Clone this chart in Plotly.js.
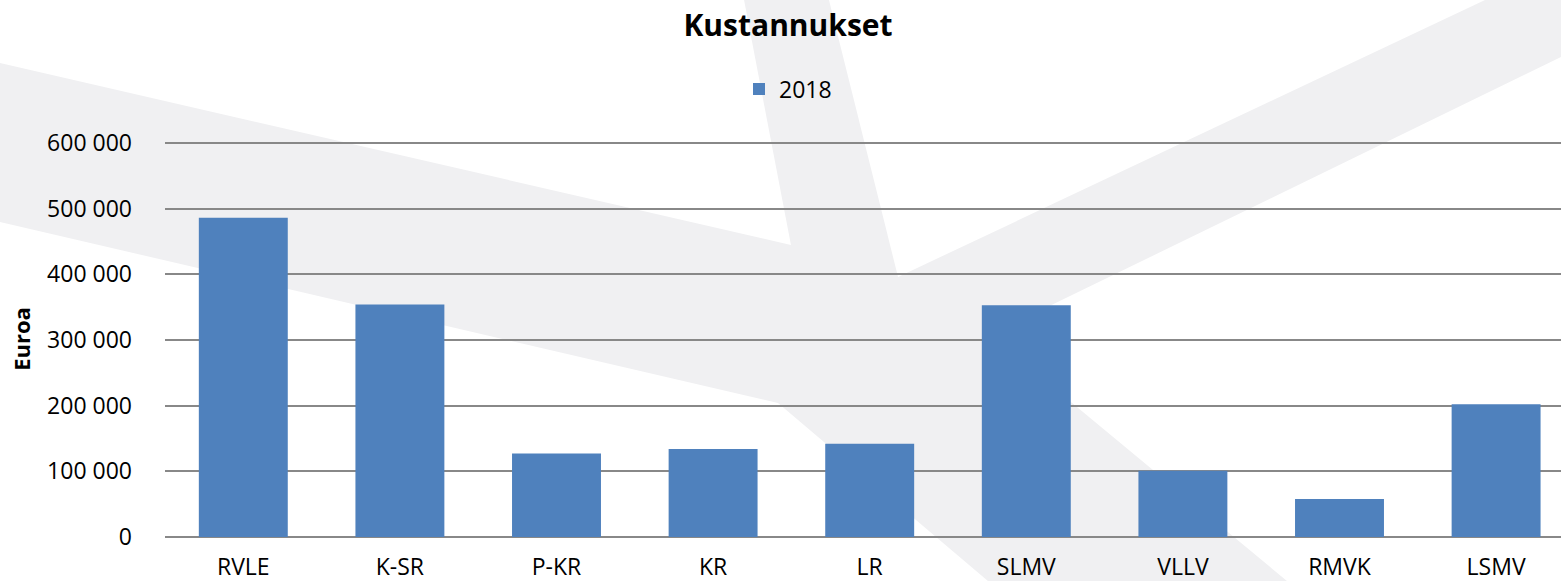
<!DOCTYPE html>
<html>
<head>
<meta charset="utf-8">
<script src="https://cdn.plot.ly/plotly-3.0.1.min.js"></script>
<style>html,body{margin:0;padding:0;background:#fff;overflow:hidden}</style>
</head>
<body>
<div id="chart" style="width:1561px;height:581px"></div>
<script>
const categories = ['RVLE', 'K-SR', 'P-KR', 'KR', 'LR', 'SLMV', 'VLLV', 'RMVK', 'LSMV'];
const values2018 = [486000, 354000, 127000, 134000, 142000, 353000, 101000, 58000, 202000];
const seriesName = '2018';
const yTicks = [0, 100000, 200000, 300000, 400000, 500000, 600000];

const W = 1561, H = 581, L = 165, R = 0, T = 141, B = 44;
const pw = W - L - R, ph = H - T - B;
const yMax = 600000 * ph / 394;
function px(x) { return ((x - L) / pw).toFixed(4); }
function py(y) { return ((H - B - y) / ph).toFixed(4); }
// watermark outline in canvas pixels (decorative background)
const wm = [[0,63],[791,245],[744,0],[829,0],[898,277],[1485,0],[1561,0],[1561,57],[990,335],[1287,581],[988,581],[778,403],[0,222]];
const wmPath = 'M' + wm.map(p => px(p[0]) + ',' + py(p[1])).join('L') + 'Z';

const font = '"Open Sans", "Liberation Sans", sans-serif';

const data = [{
  type: 'bar',
  x: categories,
  y: values2018,
  name: seriesName,
  marker: { color: '#4f81bd' },
  showlegend: true
}];

const layout = {
  width: W, height: H,
  margin: { l: L, r: R, t: T, b: B, pad: 0 },
  paper_bgcolor: '#ffffff',
  plot_bgcolor: 'rgba(0,0,0,0)',
  separators: ', ',
  font: { family: font, color: '#000', size: 23 },
  title: {
    text: '<b>Kustannukset</b>',
    font: { family: font, size: 30, color: '#000' },
    x: 788 / W, xanchor: 'center', xref: 'container',
    y: 1 - 25 / H, yanchor: 'middle', yref: 'container'
  },
  showlegend: true,
  legend: {
    orientation: 'h',
    x: (739 - L) / pw, xanchor: 'left',
    y: py(89), yanchor: 'middle',
    font: { family: font, size: 23, color: '#000' },
    bgcolor: 'rgba(0,0,0,0)',
    itemwidth: 30
  },
  bargap: 0.432,
  xaxis: {
    type: 'category',
    range: [-0.5, -0.5 + pw / 156.6],
    showgrid: false,
    showline: false,
    zeroline: false,
    ticks: '',
    ticklabelstandoff: 14,
    tickfont: { family: font, size: 23, color: '#000' },
    fixedrange: true
  },
  yaxis: {
    range: [0, yMax],
    tickvals: yTicks,
    tickformat: ',d',
    showgrid: true,
    gridcolor: '#888888',
    gridwidth: 2,
    zeroline: true,
    zerolinecolor: '#888888',
    zerolinewidth: 2,
    showline: false,
    ticks: '',
    ticklabelstandoff: 32,
    tickfont: { family: font, size: 23, color: '#000' },
    title: {
      text: '<b>Euroa</b>',
      font: { family: font, size: 22, color: '#000' },
      standoff: 10
    },
    automargin: false,
    fixedrange: true
  },
  shapes: [{
    type: 'path',
    path: wmPath,
    xref: 'paper', yref: 'paper',
    fillcolor: '#f0f0f2',
    line: { width: 0 },
    layer: 'below'
  }]
};

Plotly.newPlot('chart', data, layout, { displayModeBar: false, staticPlot: true });
</script>
</body>
</html>
